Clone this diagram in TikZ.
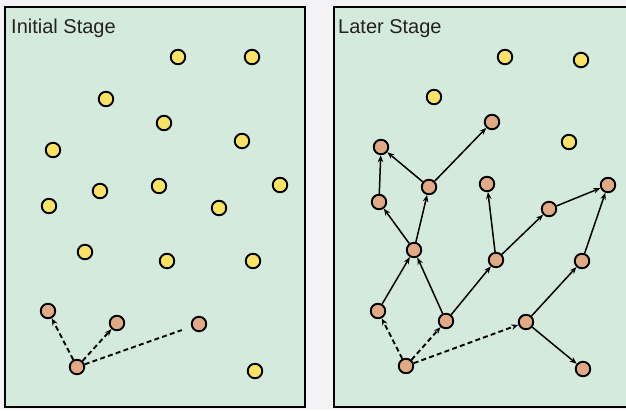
\documentclass[tikz,border=0pt]{standalone}
\usepackage{fontspec}
\setmainfont{Liberation Sans}
\usetikzlibrary{arrows.meta}
\definecolor{pagebg}{RGB}{243,243,245}
\definecolor{fieldbg}{RGB}{211,234,220}
\definecolor{freecell}{RGB}{250,226,100}
\definecolor{growncell}{RGB}{226,170,132}
\definecolor{labeltext}{RGB}{35,35,35}
\tikzset{
  panel/.style={fill=fieldbg, draw=black, line width=2.2pt},
  stagelabel/.style={anchor=base west, inner sep=0pt, text=labeltext,
    font=\fontsize{20}{23}\selectfont},
  free/.style={circle, draw=black, line width=1.9pt, fill=freecell,
    minimum size=14.5pt, inner sep=0pt},
  grown/.style={circle, draw=black, line width=1.9pt, fill=growncell,
    minimum size=14.5pt, inner sep=0pt},
  link/.style={line width=1.5pt, -{Stealth[length=7pt,width=5.5pt]}},
  probe/.style={line width=1.9pt, dash pattern=on 5pt off 3.2pt,
    -{Stealth[length=7pt,width=5.5pt]}},
  probeopen/.style={line width=1.9pt, dash pattern=on 5pt off 3.2pt}
}
\begin{document}
\begin{tikzpicture}[x=1pt, y=-1pt]
  \useasboundingbox (0,0) rectangle (626,410);
  \fill[pagebg] (0,0) rectangle (626,410);

  % ---------- left panel ----------
  \draw[panel] (5,7) rectangle (305,407);
  \node[stagelabel] (lt) at (11,33) {Initial Stage};

  \foreach \n/\x/\y in {a/178/57, b/252/57, c/106/99, d/164/123, e/242/141,
      f/53/150, g/100/191, h/159/186, i/280/185, j/49/206, k/219/208,
      l/85/252, m/167/261, n/253/261, o/255/371}
    \node[free] (L\n) at (\x,\y) {};

  \node[grown] (Lr)  at (77,367) {};
  \node[grown] (Lp1) at (48,311) {};
  \node[grown] (Lp2) at (117,323) {};
  \node[grown] (Lp3) at (199,324) {};

  \draw[probe] (Lr) -- (Lp1);
  \draw[probe] (Lr) -- (Lp2);
  \draw[probeopen, shorten >=10pt] (Lr) -- (Lp3);

  % ---------- right panel ----------
  \draw[panel] (334,7) rectangle (632,407);
  \node[stagelabel] (rt) at (338,33) {Later Stage};

  \node[free] (Ry1) at (505,57) {};
  \node[free] (Ry2) at (581,60) {};
  \node[free] (Ry3) at (434,97) {};
  \node[free] (Ry4) at (569,142) {};

  \node[grown] (A) at (492,122) {};
  \node[grown] (B) at (381,147) {};
  \node[grown] (C) at (429,187) {};
  \node[grown] (D) at (487,184) {};
  \node[grown] (F) at (608,185) {};
  \node[grown] (G) at (379,202) {};
  \node[grown] (H) at (549,209) {};
  \node[grown] (I) at (414,250) {};
  \node[grown] (J) at (496,260) {};
  \node[grown] (K) at (582,261) {};
  \node[grown] (L) at (378,311) {};
  \node[grown] (M) at (446,321) {};
  \node[grown] (N) at (526,322) {};
  \node[grown] (O) at (406,366) {};
  \node[grown] (P) at (583,369) {};

  \draw[probe] (O) -- (L);
  \draw[probe] (O) -- (M);
  \draw[probe] (O) -- (N);

  \draw[link] (L) -- (I);
  \draw[link] (M) -- (I);
  \draw[link] (M) -- (J);
  \draw[link] (N) -- (K);
  \draw[link] (N) -- (P);
  \draw[link] (I) -- (G);
  \draw[link] (I) -- (C);
  \draw[link] (G) -- (B);
  \draw[link] (C) -- (B);
  \draw[link] (C) -- (A);
  \draw[link] (J) -- (D);
  \draw[link] (J) -- (H);
  \draw[link] (H) -- (F);
  \draw[link] (K) -- (F);
\end{tikzpicture}
\end{document}
